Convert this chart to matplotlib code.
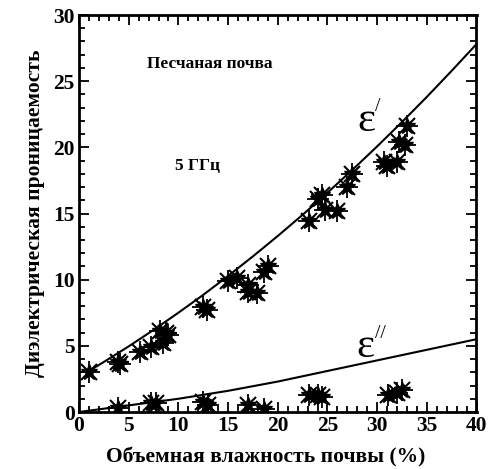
import matplotlib
matplotlib.use("Agg")
import matplotlib.pyplot as plt
from matplotlib.ticker import MultipleLocator

# Measured points: real part (eps')
eps1_x = [1.0, 3.9, 4.1, 6.1, 7.2, 8.2, 8.5, 9.0, 8.8, 12.5, 12.9,
          15.0, 15.9, 17.0, 17.0, 17.9, 18.6, 19.0,
          23.1, 24.1, 24.5, 24.8, 26.0, 27.0, 27.5,
          30.7, 31.0, 32.0, 32.2, 32.8, 33.0]
eps1_y = [3.0, 3.8, 3.6, 4.5, 4.9, 6.1, 5.2, 5.8, 6.0, 7.9, 7.7,
          9.9, 10.1, 9.6, 9.1, 9.0, 10.6, 11.0,
          14.4, 16.1, 16.4, 15.3, 15.2, 17.0, 18.0,
          18.9, 18.6, 18.9, 20.4, 20.2, 21.6]

# Measured points: imaginary part (eps'')
eps2_x = [3.9, 7.2, 7.7, 12.5, 13.0, 17.0, 18.6, 23.1, 24.0, 24.5, 31.1, 32.0, 32.5]
eps2_y = [0.3, 0.7, 0.7, 0.75, 0.5, 0.5, 0.25, 1.25, 1.25, 1.15, 1.25, 1.4, 1.65]

# Model curves
curve1_x = [1, 2.5, 5, 7.5, 10, 12.5, 15, 17.5, 20, 22.5, 25, 27.5, 30, 32.5, 35, 37.5, 40]
curve1_y = [3.1, 3.78, 4.96, 6.2, 7.5, 8.85, 10.28, 11.76, 13.3, 14.9, 16.57,
            18.29, 20.07, 21.91, 23.81, 25.78, 27.8]
curve2_x = [0, 2.5, 5, 7.5, 10, 12.5, 15, 17.5, 20, 22.5, 25, 27.5, 30, 32.5, 35, 37.5, 40]
curve2_y = [0.0, 0.25, 0.5, 0.75, 1.0, 1.3, 1.6, 1.95, 2.3, 2.7, 3.1, 3.5, 3.9,
            4.3, 4.7, 5.1, 5.5]

x_ticks = [0, 5, 10, 15, 20, 25, 30, 35, 40]
y_ticks = [0, 5, 10, 15, 20, 25, 30]

plt.rcParams['font.family'] = ['Liberation Serif', 'DejaVu Serif']

fig = plt.figure(figsize=(4.89, 4.69), dpi=100)
ax = fig.add_axes([79/489, 1-412/469, (476.5-79)/489, (412-15)/469])

ax.plot(curve1_x, curve1_y, color='black', lw=1.5, zorder=2)
ax.plot(curve2_x, curve2_y, color='black', lw=1.5, zorder=2)

for xs, ys in [(eps1_x, eps1_y), (eps2_x, eps2_y)]:
    ax.plot(xs, ys, linestyle='none', marker='*', ms=12, color='black', zorder=3)
    ax.plot(xs, ys, linestyle='none', marker='+', ms=16, mew=1.3, color='black', zorder=3)
    ax.plot(xs, ys, linestyle='none', marker='x', ms=11, mew=1.5, color='black', zorder=3)

ax.set_xlim(0, 40)
ax.set_ylim(0, 30)
ax.set_xticks(x_ticks)
ax.set_yticks(y_ticks)
ax.xaxis.set_minor_locator(MultipleLocator(1))
ax.yaxis.set_minor_locator(MultipleLocator(1))
ax.tick_params(which='both', direction='in', top=True, right=True, width=1.3)
ax.tick_params(which='major', length=7, labelsize=15.5, pad=3)
ax.tick_params(which='minor', length=4)
for lab in ax.get_xticklabels() + ax.get_yticklabels():
    lab.set_fontweight('bold')
for s in ax.spines.values():
    s.set_linewidth(2)

fig.text(266/489, 1-457/469, 'Объемная влажность почвы (%)', fontsize=15.5,
         fontweight='bold', ha='center', va='center')
ax.set_ylabel('Диэлектрическая проницаемость', fontsize=15.5, fontweight='bold', labelpad=6)

ax.text(13.2, 26.3, 'Песчаная почва', fontsize=12.5, fontweight='bold', ha='center', va='center')
ax.text(11.9, 18.6, '5 ГГц', fontsize=12.5, fontweight='bold', ha='center', va='center')
ax.text(28.9, 22.0, 'ε', fontsize=31, ha='center', va='center')
ax.text(30.1, 23.1, '/', fontsize=14, ha='center', va='center')
ax.text(28.8, 4.9, 'ε', fontsize=31, ha='center', va='center')
ax.text(30.3, 5.9, '//', fontsize=14, ha='center', va='center')

fig.savefig('out.png', dpi=100)
